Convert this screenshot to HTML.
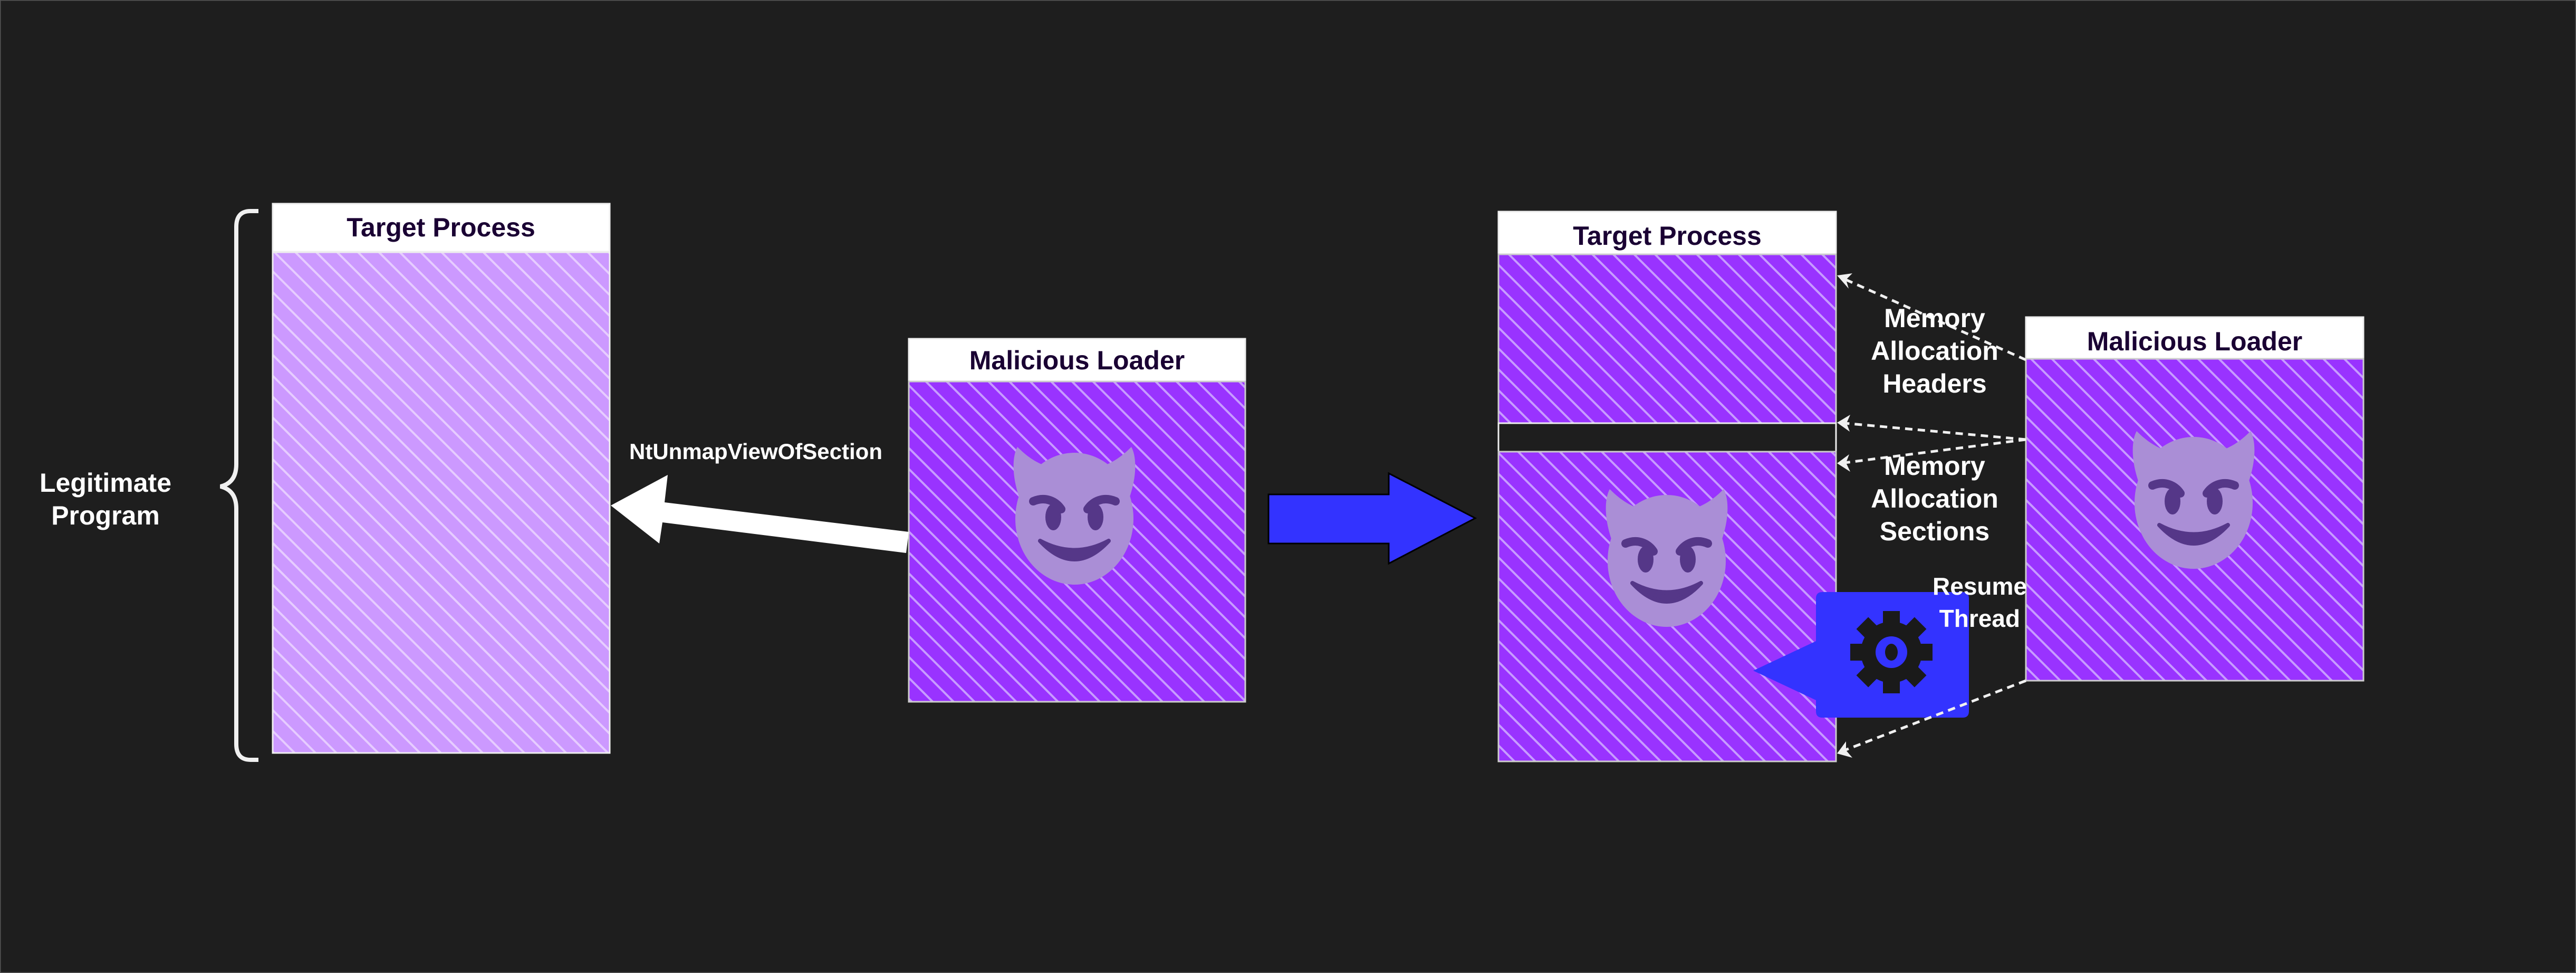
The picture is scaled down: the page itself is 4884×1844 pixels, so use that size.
<!DOCTYPE html>
<html><head><meta charset="utf-8"><style>
html,body{margin:0;padding:0;background:#1e1e1e;}
svg{display:block;}
text{font-family:"Liberation Sans",Arial,sans-serif;font-weight:bold;}
</style></head><body>
<svg width="4884" height="1844" viewBox="0 0 4884 1844" xmlns="http://www.w3.org/2000/svg">
<defs>
<pattern id="hL" patternUnits="userSpaceOnUse" width="28" height="28" patternTransform="rotate(-45)">
<rect width="28" height="28" fill="#cc99ff"/><rect x="0" y="0" width="4" height="28" fill="#e6ccff"/>
</pattern>
<pattern id="hD" patternUnits="userSpaceOnUse" width="28" height="28" patternTransform="rotate(-45)">
<rect width="28" height="28" fill="#9933ff"/><rect x="0" y="0" width="4" height="28" fill="#c79cff"/>
</pattern>
<g id="devil">
<path d="M-100,-20 C-120,-70 -118,-110 -108,-128 C-90,-110 -75,-100 -55,-92 Z" fill="#aa8ed6"/>
<path d="M100,-20 C120,-70 118,-110 108,-128 C90,-110 75,-100 55,-92 Z" fill="#aa8ed6"/>
<ellipse cx="0" cy="8" rx="112" ry="125" fill="#aa8ed6"/>
<path d="M-78,-25 C-55,-35 -35,-25 -25,-10" stroke="#553788" stroke-width="16" fill="none" stroke-linecap="round"/>
<path d="M78,-25 C55,-35 35,-25 25,-10" stroke="#553788" stroke-width="16" fill="none" stroke-linecap="round"/>
<ellipse cx="-40" cy="5" rx="15" ry="25" fill="#553788"/>
<ellipse cx="40" cy="5" rx="15" ry="25" fill="#553788"/>
<path d="M-65,50 Q0,120 65,50 Q0,85 -65,50 Z" fill="#553788" stroke="#553788" stroke-width="8" stroke-linejoin="round"/>
</g>
</defs>
<rect width="4884" height="1844" fill="#1e1e1e" stroke="#555" stroke-width="3"/>

<path d="M490,400 L475,400 Q448,400 448,430 L448,880 Q448,915 418,922 Q448,929 448,964 L448,1410 Q448,1440 475,1440 L490,1440" fill="none" stroke="#f0f0f0" stroke-width="8"/>
<text x="200" y="932" font-size="50" fill="#fff" text-anchor="middle">Legitimate</text>
<text x="200" y="994" font-size="50" fill="#fff" text-anchor="middle">Program</text>

<rect x="517" y="386" width="639" height="91" fill="#fff" stroke="#eee" stroke-width="3"/>
<text x="836" y="448" font-size="50" fill="#1a0033" text-anchor="middle">Target Process</text>
<rect x="517" y="478" width="639" height="949" fill="url(#hL)" stroke="#eee" stroke-width="3"/>

<rect x="1723" y="642" width="638" height="81" fill="#fff" stroke="#eee" stroke-width="3"/>
<text x="2042" y="700" font-size="50" fill="#1a0033" text-anchor="middle">Malicious Loader</text>
<rect x="1723" y="723" width="638" height="607" fill="url(#hD)" stroke="#ccc" stroke-width="3"/>
<use href="#devil" transform="translate(2037,975)"/>

<path d="M1723,1008 L1260,952 L1266,900 L1158,958 L1250,1030 L1256,990 L1718,1048 Z" fill="#fff"/>
<text x="1433" y="870" font-size="42" fill="#fff" text-anchor="middle">NtUnmapViewOfSection</text>

<path d="M2405,937 L2633,937 L2633,897 L2797,982 L2633,1068 L2633,1030 L2405,1030 Z" fill="#3333ff" stroke="#000" stroke-width="3"/>

<rect x="2841" y="401" width="640" height="81" fill="#fff" stroke="#eee" stroke-width="3"/>
<text x="3161" y="464" font-size="50" fill="#1a0033" text-anchor="middle">Target Process</text>
<rect x="2841" y="482" width="640" height="320" fill="url(#hD)" stroke="#ccc" stroke-width="3"/>
<rect x="2841" y="802" width="640" height="54" fill="#1e1e1e" stroke="#eee" stroke-width="3"/>
<rect x="2841" y="856" width="640" height="587" fill="url(#hD)" stroke="#ccc" stroke-width="3"/>
<use href="#devil" transform="translate(3160,1055)"/>

<path d="M3455,1122 L3721,1122 Q3733,1122 3733,1134 L3733,1348 Q3733,1360 3721,1360 L3455,1360 Q3443,1360 3443,1348 L3443,1327 L3324,1271 L3443,1215 L3443,1134 Q3443,1122 3455,1122 Z" fill="#3333ff"/>
<g transform="translate(3586,1236)" fill="#1a1a1a">
<circle r="58"/>
<rect x="-16" y="-78" width="32" height="30"/>
<rect x="-16" y="48" width="32" height="30"/>
<rect x="-78" y="-16" width="30" height="32"/>
<rect x="48" y="-16" width="30" height="32"/>
<rect x="-16" y="-78" width="32" height="30" transform="rotate(45)"/>
<rect x="-16" y="-78" width="32" height="30" transform="rotate(135)"/>
<rect x="-16" y="-78" width="32" height="30" transform="rotate(225)"/>
<rect x="-16" y="-78" width="32" height="30" transform="rotate(315)"/>
<circle r="30" fill="#3333ff"/>
<ellipse rx="12" ry="16" fill="#1a1a1a"/>
</g>

<rect x="3841" y="601" width="640" height="79" fill="#fff" stroke="#eee" stroke-width="3"/>
<text x="4161" y="664" font-size="50" fill="#1a0033" text-anchor="middle">Malicious Loader</text>
<rect x="3841" y="680" width="640" height="610" fill="url(#hD)" stroke="#ccc" stroke-width="3"/>
<use href="#devil" transform="translate(4159,945)"/>

<g stroke="#f0f0f0" stroke-width="5" stroke-dasharray="14,10" fill="none">
<line x1="3841" y1="682" x2="3495" y2="528"/>
<line x1="3841" y1="833" x2="3497" y2="802"/>
<line x1="3841" y1="833" x2="3497" y2="877"/>
<line x1="3841" y1="1290" x2="3497" y2="1422"/>
</g>
<g fill="#f0f0f0">
<path d="M3483,522 L3512,518 L3500,530 L3505,547 Z"/>
<path d="M3483,801 L3508,786 L3501,802 L3507,818 Z"/>
<path d="M3483,878 L3506,861 L3500,877 L3508,894 Z"/>
<path d="M3483,1428 L3500,1405 L3500,1422 L3512,1436 Z"/>
</g>

<g font-size="50" fill="#fff" text-anchor="middle">
<text x="3668" y="620">Memory</text>
<text x="3668" y="682">Allocation</text>
<text x="3668" y="744">Headers</text>
<text x="3668" y="900">Memory</text>
<text x="3668" y="962">Allocation</text>
<text x="3668" y="1024">Sections</text>
</g>
<g font-size="46" fill="#fff" text-anchor="end">
<text x="3843" y="1127">Resume</text>
<text x="3830" y="1188">Thread</text>
</g>
</svg>
</body></html>
